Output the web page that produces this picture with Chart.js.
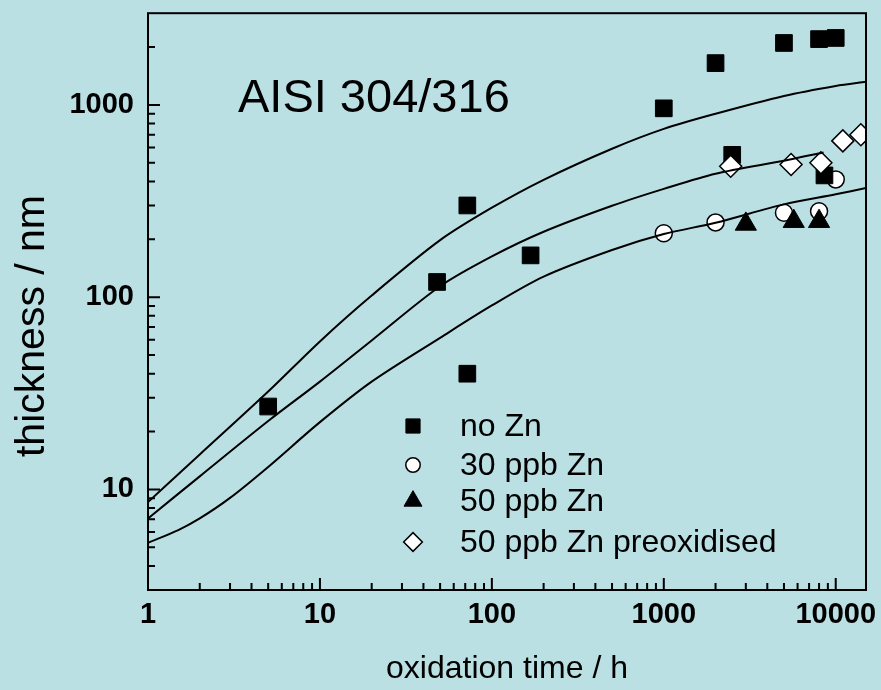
<!DOCTYPE html>
<html>
<head>
<meta charset="utf-8">
<title>Oxide thickness</title>
<script src="https://cdn.jsdelivr.net/npm/chart.js"></script>
<style>
  html, body { margin: 0; padding: 0; background: #bae0e4; }
  canvas { display: block; }
</style>
</head>
<body>
<canvas id="oxideChart" width="881" height="690"></canvas>
<script>
(() => {
  'use strict'

  // measured points
  const noZnTime = [5, 48, 72, 72, 168, 1000, 2000, 2500, 5000, 8000, 8600, 10000]
  const noZnThick = [27, 120, 300, 40, 165, 960, 1650, 550, 2100, 2200, 430, 2230]
  const zn30Time = [1000, 2000, 5000, 8000, 10000]
  const zn30Thick = [215, 245, 275, 280, 410]
  const zn50Time = [3000, 5700, 8000]
  const zn50Thick = [240, 248, 248]
  const preoxTime = [2450, 5500, 8200, 11000, 14000]
  const preoxThick = [480, 490, 500, 650, 700]

  // fitted curves
  const upperTime = [1, 2, 5, 10, 20, 50, 100, 200, 500, 1000, 2000, 5000, 10000, 15000]
  const upperThick = [8.6, 15.2, 32.3, 58.9, 102, 198, 292, 408, 592, 751, 900, 1114, 1256, 1320]
  const middleTime = [1, 2, 5, 10, 20, 50, 100, 200, 500, 1000, 2000, 5000, 8500]
  const middleThick = [7.07, 11.7, 22.7, 36.4, 59.6, 114, 163, 219, 299, 366, 439, 513, 566]
  const lowerTime = [1, 1.5, 2, 3, 5, 10, 20, 50, 100, 200, 500, 1000, 2000, 5000, 10000, 15000]
  const lowerThick = [5.28, 6.15, 7.07, 9.04, 13.1, 22.4, 36.4, 61.5, 90.6, 128, 176, 213, 244, 304, 343, 370]

  // axes
  const xLabels = [1, 10, 100, 1000, 10000]
  const xMinor = [2, 3, 4, 5, 6, 7, 8, 9, 20, 30, 40, 50, 60, 70, 80, 90,
    200, 300, 400, 500, 600, 700, 800, 900, 2000, 3000, 4000, 5000, 6000, 7000, 8000, 9000]
  const yLabels = [10, 100, 1000]
  const yMinor = [4, 5, 6, 7, 8, 9, 20, 30, 40, 50, 60, 70, 80, 90,
    200, 300, 400, 500, 600, 700, 800, 900, 2000]

  const legendNames = ['no Zn', '30 ppb Zn', '50 ppb Zn', '50 ppb Zn preoxidised']

  const font = '"Liberation Sans", Arial, Helvetica, sans-serif'
  const pts = (xs, ys) => xs.map((x, i) => ({ x: x, y: ys[i] }))

  const curve = (data) => ({
    type: 'line',
    data: data,
    showLine: true,
    borderColor: '#000',
    borderWidth: 2,
    pointRadius: 0,
    fill: false,
    tension: 0.3,
    order: 0
  })

  const markers = [
    { label: legendNames[0], data: pts(noZnTime, noZnThick), pointStyle: 'rect', pointRadius: 11.8,
      backgroundColor: '#000', borderColor: '#000', borderWidth: 1, order: 3 },
    { label: legendNames[1], data: pts(zn30Time, zn30Thick), pointStyle: 'circle', pointRadius: 8.5,
      backgroundColor: '#fff', borderColor: '#000', borderWidth: 1.5, order: 4 },
    { label: legendNames[2], data: pts(zn50Time, zn50Thick), pointStyle: 'triangle', pointRadius: 12.2,
      backgroundColor: '#000', borderColor: '#000', borderWidth: 1, order: 2 },
    { label: legendNames[3], data: pts(preoxTime, preoxThick), pointStyle: 'rectRot', pointRadius: 11,
      backgroundColor: '#fff', borderColor: '#000', borderWidth: 1.5, order: 1 }
  ]

  const background = {
    id: 'background',
    beforeDraw (chart) {
      const ctx = chart.ctx
      ctx.save()
      ctx.fillStyle = '#bae0e4'
      ctx.fillRect(0, 0, chart.width, chart.height)
      ctx.restore()
    }
  }

  // frame, inward tick marks, y title and the alloy label
  const frame = {
    id: 'frame',
    afterDraw (chart) {
      const { ctx, chartArea: a, scales } = chart
      ctx.save()
      ctx.strokeStyle = '#000'
      ctx.lineWidth = 2
      ctx.strokeRect(a.left, a.top, a.right - a.left, a.bottom - a.top)
      ctx.beginPath()
      const xt = (v, len) => {
        const px = scales.x.getPixelForValue(v)
        ctx.moveTo(px, a.bottom)
        ctx.lineTo(px, a.bottom - len)
      }
      const yt = (v, len) => {
        const py = scales.y.getPixelForValue(v)
        ctx.moveTo(a.left, py)
        ctx.lineTo(a.left + len, py)
      }
      xLabels.forEach(v => xt(v, 12))
      xMinor.forEach(v => xt(v, 7))
      yLabels.forEach(v => yt(v, 12))
      yMinor.forEach(v => yt(v, 7))
      ctx.stroke()

      ctx.fillStyle = '#000'
      ctx.font = '47px ' + font
      ctx.textBaseline = 'alphabetic'
      ctx.fillText('AISI 304/316', 238, 112)

      ctx.translate(33, 326)
      ctx.rotate(-Math.PI / 2)
      ctx.font = '41px ' + font
      ctx.textAlign = 'center'
      ctx.textBaseline = 'middle'
      ctx.fillText('thickness / nm', 0, 0)
      ctx.restore()
    }
  }

  // legend inside the plot
  const innerLegend = {
    id: 'innerLegend',
    afterDraw (chart) {
      const ctx = chart.ctx
      const rows = [426, 465, 501, 542]
      ctx.save()
      markers.forEach((m, i) => {
        ctx.fillStyle = m.backgroundColor
        ctx.strokeStyle = m.borderColor
        ctx.lineWidth = m.borderWidth
        Chart.helpers.drawPoint(ctx, {
          pointStyle: m.pointStyle,
          radius: m.pointRadius * 0.85,
          rotation: 0,
          borderWidth: m.borderWidth
        }, 413, rows[i])
        ctx.fillStyle = '#000'
        ctx.font = '32px ' + font
        ctx.textBaseline = 'middle'
        ctx.fillText(m.label, 460, rows[i] + 1)
      })
      ctx.restore()
    }
  }

  const ctx = document.getElementById('oxideChart')
  // eslint-disable-next-line no-unused-vars
  const oxideChart = new Chart(ctx, {
    type: 'scatter',
    data: {
      datasets: [
        curve(pts(upperTime, upperThick)),
        curve(pts(middleTime, middleThick)),
        curve(pts(lowerTime, lowerThick)),
        ...markers
      ]
    },
    options: {
      responsive: false,
      animation: false,
      layout: { padding: { top: 13, right: 15, left: 0, bottom: 0 } },
      plugins: {
        legend: { display: false },
        tooltip: { enabled: false }
      },
      scales: {
        x: {
          type: 'logarithmic',
          position: 'bottom',
          min: 1,
          max: 15000,
          afterBuildTicks: (s) => { s.ticks = xLabels.concat(xMinor).sort((a, b) => a - b).map(v => ({ value: v })) },
          afterFit: (s) => { s.height = 100; s.paddingLeft = 0; s.paddingRight = 0 },
          grid: { display: false, drawTicks: false },
          border: { display: false },
          ticks: {
            autoSkip: false,
            maxRotation: 0,
            padding: 8,
            color: '#000',
            font: { family: font, size: 29, weight: 'bold' },
            callback: (v) => xLabels.includes(Number(v)) ? String(v) : ''
          },
          title: {
            display: true,
            text: 'oxidation time / h',
            color: '#000',
            font: { family: font, size: 32 },
            padding: { top: 0, bottom: 2 }
          }
        },
        y: {
          type: 'logarithmic',
          min: 3,
          max: 3000,
          afterBuildTicks: (s) => { s.ticks = yLabels.concat(yMinor).sort((a, b) => a - b).map(v => ({ value: v })) },
          afterFit: (s) => { s.width = 148; s.paddingTop = 0; s.paddingBottom = 0 },
          grid: { display: false, drawTicks: false },
          border: { display: false },
          ticks: {
            autoSkip: false,
            padding: 14,
            color: '#000',
            font: { family: font, size: 29, weight: 'bold' },
            callback: (v) => yLabels.includes(Number(v)) ? String(v) : ''
          }
        }
      }
    },
    plugins: [background, frame, innerLegend]
  })
})()
</script>
</body>
</html>
